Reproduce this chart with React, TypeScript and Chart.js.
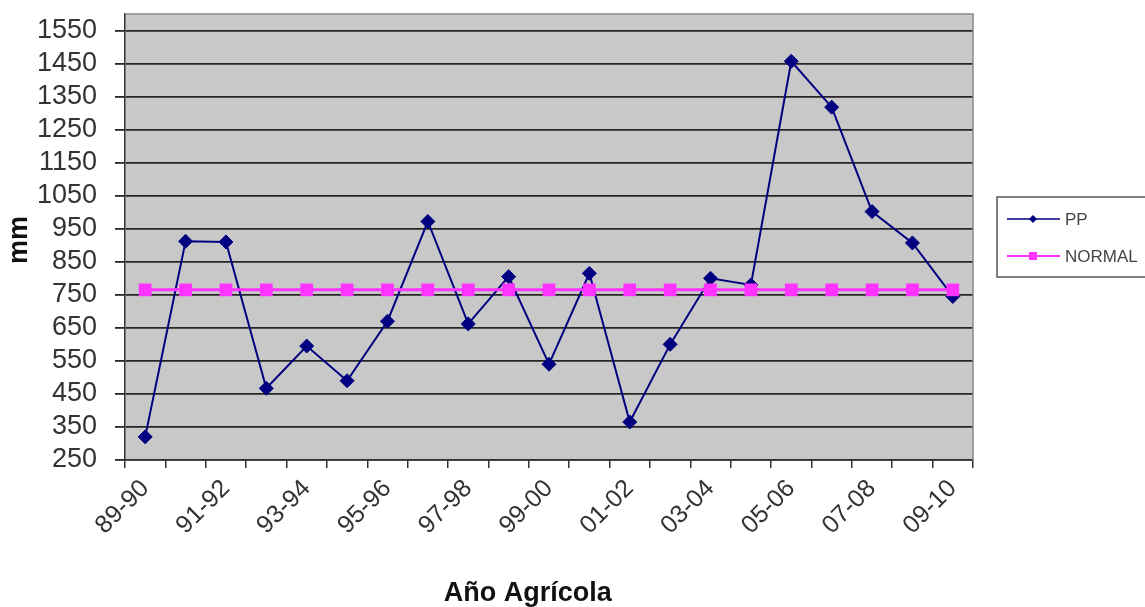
import React, { useEffect, useRef } from 'react';
import { Chart, registerables } from 'chart.js';

Chart.register(...registerables);

const categories = ['89-90', '90-91', '91-92', '92-93', '93-94', '94-95', '95-96', '96-97', '97-98', '98-99', '99-00', '00-01', '01-02', '02-03', '03-04', '04-05', '05-06', '06-07', '07-08', '08-09', '09-10'];
const ppValues = [320, 912, 910, 467, 595, 490, 670, 972, 662, 805, 540, 815, 365, 600, 800, 780, 1457, 1318, 1002, 907, 745];
const normalValues = [765, 765, 765, 765, 765, 765, 765, 765, 765, 765, 765, 765, 765, 765, 765, 765, 765, 765, 765, 765, 765];
const yTickValues = [250, 350, 450, 550, 650, 750, 850, 950, 1050, 1150, 1250, 1350, 1450, 1550];
const seriesNames = ['PP', 'NORMAL'];
const xTitle = 'Año Agrícola';
const yTitle = 'mm';

const FONT = "'Liberation Sans', Arial, sans-serif";
const PP_COLOR = '#000080';
const NORMAL_COLOR = '#FF33FF';

const plotBackground = {
  id: 'plotBackground',
  beforeDraw(chart: any) {
    const { ctx, chartArea } = chart;
    ctx.save();
    ctx.fillStyle = '#C8C8C8';
    ctx.fillRect(chartArea.left, chartArea.top, chartArea.right - chartArea.left, chartArea.bottom - chartArea.top);
    ctx.restore();
  },
  beforeDatasetsDraw(chart: any) {
    const { ctx, chartArea } = chart;
    ctx.save();
    ctx.strokeStyle = '#8a8a8a';
    ctx.lineWidth = 1.5;
    ctx.beginPath();
    ctx.moveTo(chartArea.left, chartArea.top);
    ctx.lineTo(chartArea.right, chartArea.top);
    ctx.lineTo(chartArea.right, chartArea.bottom);
    ctx.stroke();
    ctx.restore();
  },
};

const axisTitles = {
  id: 'axisTitles',
  afterDraw(chart: any) {
    const { ctx, chartArea } = chart;
    ctx.save();
    ctx.fillStyle = '#111111';
    ctx.font = `bold 27px ${FONT}`;
    ctx.textAlign = 'center';
    ctx.textBaseline = 'middle';
    const cx = chartArea.left + (chartArea.right - chartArea.left) * 0.475;
    ctx.fillText(xTitle, cx, chart.height - 13);
    ctx.translate(20, (chartArea.top + chartArea.bottom) / 2 + 3);
    ctx.rotate(-Math.PI / 2);
    ctx.fillText(yTitle, 0, 0);
    ctx.restore();
  },
};

const excelLegend = {
  id: 'excelLegend',
  afterDraw(chart: any) {
    const { ctx, chartArea } = chart;
    const mid = (chartArea.top + chartArea.bottom) / 2;
    const x0 = chartArea.right + 24;
    const h = 80;
    const y0 = mid - h / 2;
    ctx.save();
    ctx.fillStyle = '#ffffff';
    ctx.fillRect(x0, y0, 200, h);
    ctx.strokeStyle = '#555555';
    ctx.lineWidth = 1.5;
    ctx.strokeRect(x0, y0, 200, h);
    const rows = [mid - 18, mid + 19];
    chart.data.datasets.forEach((ds: any, i: number) => {
      const y = rows[i];
      ctx.strokeStyle = ds.borderColor;
      ctx.lineWidth = i === 0 ? 1.5 : 2;
      ctx.beginPath();
      ctx.moveTo(x0 + 10, y);
      ctx.lineTo(x0 + 63, y);
      ctx.stroke();
      ctx.fillStyle = ds.borderColor;
      const cx = x0 + 36;
      ctx.beginPath();
      if (i === 0) {
        const r = 4;
        ctx.moveTo(cx, y - r);
        ctx.lineTo(cx + r, y);
        ctx.lineTo(cx, y + r);
        ctx.lineTo(cx - r, y);
        ctx.closePath();
      } else {
        ctx.rect(cx - 4, y - 4, 8, 8);
      }
      ctx.fill();
      ctx.fillStyle = '#444444';
      ctx.font = `17px ${FONT}`;
      ctx.textBaseline = 'middle';
      ctx.textAlign = 'left';
      ctx.fillText(ds.label, x0 + 68, y + 1);
    });
    ctx.restore();
  },
};

export default function App() {
  const canvasRef = useRef<HTMLCanvasElement | null>(null);

  useEffect(() => {
    const canvas = canvasRef.current;
    if (!canvas) return;
    const chart = new Chart(canvas, {
      type: 'line',
      data: {
        labels: categories,
        datasets: [
          {
            label: seriesNames[0],
            data: ppValues,
            borderColor: PP_COLOR,
            backgroundColor: PP_COLOR,
            borderWidth: 2,
            pointStyle: 'rectRot',
            pointRadius: 7,
            pointBackgroundColor: PP_COLOR,
            pointBorderColor: PP_COLOR,
            pointBorderWidth: 1,
            tension: 0,
            order: 2,
          },
          {
            label: seriesNames[1],
            data: normalValues,
            borderColor: NORMAL_COLOR,
            backgroundColor: NORMAL_COLOR,
            borderWidth: 3,
            pointStyle: 'rect',
            pointRadius: 9,
            pointBackgroundColor: NORMAL_COLOR,
            pointBorderColor: NORMAL_COLOR,
            pointBorderWidth: 0,
            tension: 0,
            order: 1,
          },
        ],
      },
      options: {
        responsive: false,
        animation: false,
        events: [],
        layout: { padding: { left: 0, top: 14, right: 172, bottom: 0 } },
        plugins: {
          legend: { display: false },
          tooltip: { enabled: false },
        },
        scales: {
          x: {
            type: 'category',
            offset: true,
            afterFit: (s: any) => {
              s.height = 147;
              s.paddingLeft = 0;
              s.paddingRight = 0;
              s.paddingTop = 0;
              s.paddingBottom = 0;
            },
            grid: {
              offset: true,
              drawOnChartArea: false,
              drawTicks: true,
              tickLength: 8,
              color: '#333333',
              lineWidth: 1.5,
            },
            border: { display: true, color: '#333333', width: 1.5 },
            ticks: {
              autoSkip: false,
              minRotation: 45,
              maxRotation: 45,
              padding: 6,
              color: '#333333',
              font: { family: FONT, size: 25 },
              callback: (_v: any, i: number) => (i % 2 === 0 ? categories[i] : ''),
            },
            title: { display: false },
          },
          y: {
            min: 250,
            max: 1600,
            afterFit: (s: any) => {
              s.width = 125;
              s.paddingTop = 0;
              s.paddingBottom = 0;
              s.paddingLeft = 0;
              s.paddingRight = 0;
            },
            afterBuildTicks: (s: any) => { s.ticks = yTickValues.map((v) => ({ value: v })); },
            grid: {
              color: '#262626',
              lineWidth: 1.8,
              tickLength: 10,
              drawTicks: true,
            },
            border: { display: true, color: '#333333', width: 1.5 },
            ticks: {
              autoSkip: false,
              padding: 18,
              color: '#333333',
              font: { family: FONT, size: 27 },
              callback: (v: any) => String(v),
            },
            title: { display: false },
          },
        },
      },
      plugins: [plotBackground, axisTitles, excelLegend],
    } as any);
    return () => chart.destroy();
  }, []);

  return (
    <div style={{ position: 'absolute', left: 0, top: 0, width: 1145, height: 607, background: '#ffffff' }}>
      <canvas ref={canvasRef} width={1145} height={607} style={{ display: 'block' }} />
    </div>
  );
}
